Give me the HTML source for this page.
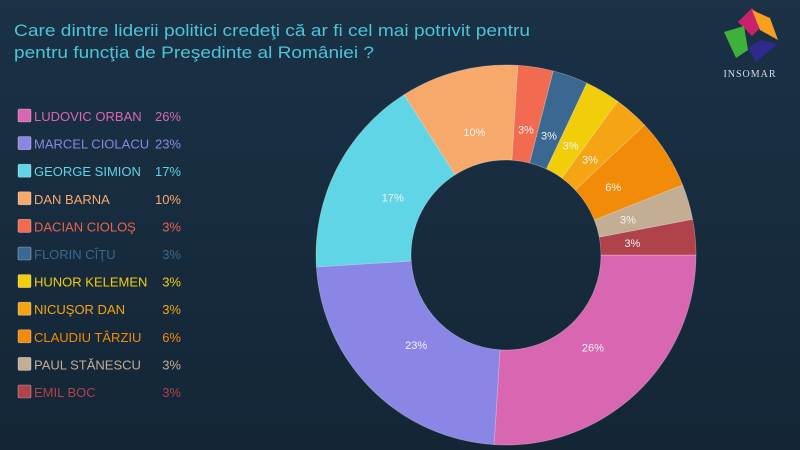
<!DOCTYPE html>
<html><head><meta charset="utf-8"><style>
html,body{margin:0;padding:0;background:#162a3c;}
svg{display:block}
</style></head><body>
<svg id="s" width="800" height="450" xmlns="http://www.w3.org/2000/svg" font-family="Liberation Sans, DejaVu Sans, sans-serif">
<defs><linearGradient id="bg" x1="0" y1="0" x2="0" y2="1"><stop offset="0" stop-color="#1a3146"/><stop offset="1" stop-color="#142636"/></linearGradient></defs>
<rect width="800" height="450" fill="url(#bg)"/>
<text x="14" y="36" font-size="17" fill="#4cc4d6" textLength="516" lengthAdjust="spacingAndGlyphs">Care dintre liderii politici credeţi că ar fi cel mai potrivit pentru</text>
<text x="14" y="58" font-size="17" fill="#4cc4d6" textLength="360" lengthAdjust="spacingAndGlyphs">pentru funcţia de Preşedinte al României ?</text>
<g id="logo">
<polygon points="738,22 752,8 766,22 752,36" fill="#c8226a"/>
<polygon points="752,10 770,18 778,40 760,30" fill="#f5a020"/>
<polygon points="760,40 778,44 756,62 748,48" fill="#2e2a8c"/>
<polygon points="724,32 744,26 748,50 736,58" fill="#3fb13a"/>
<text x="750" y="77" font-size="10" fill="#d8dde6" text-anchor="middle" font-family="Liberation Serif, serif" letter-spacing="1">INSOMAR</text>
</g>
<g id="pie"></g>
<g id="leg" font-size="13"></g>
</svg>
<script>
var d=[["LUDOVIC ORBAN",26,"#d966b0"],["MARCEL CIOLACU",23,"#8a86e6"],["GEORGE SIMION",17,"#5fd5e6"],["DAN BARNA",10,"#f7a96c"],["DACIAN CIOLOŞ",3,"#f26a50"],["FLORIN CÎŢU",3,"#3a6890"],["HUNOR KELEMEN",3,"#f2cd0a"],["NICUŞOR DAN",3,"#f5a514"],["CLAUDIU TÂRZIU",6,"#f28c08"],["PAUL STĂNESCU",3,"#c3ad93"],["EMIL BOC",3,"#b0424c"]];
var txt=["#d966b0","#8a86e6","#5fd5e6","#f7a96c","#e8644f","#3a6890","#f2cd0a","#f5a514","#f28c08","#c3ad93","#b0424c"];
var cx=506,cy=255,R=190,r=95,ns="http://www.w3.org/2000/svg",pie=document.getElementById("pie"),leg=document.getElementById("leg");
var tot=100,a=0,h="";
function p(rad,ang){return (cx+rad*Math.cos(ang)).toFixed(2)+","+(cy+rad*Math.sin(ang)).toFixed(2);}
d.forEach(function(e,i){
 var a1=a+e[1]/tot*2*Math.PI,l=(a1-a)>Math.PI?1:0;
 h+='<path d="M'+p(R,a)+' A'+R+','+R+' 0 '+l+' 1 '+p(R,a1)+' L'+p(r,a1)+' A'+r+','+r+' 0 '+l+' 0 '+p(r,a)+' Z" fill="'+e[2]+'" stroke="rgba(255,255,255,0.35)" stroke-width="0.7"/>';
 var m=(a+a1)/2;
 h+='<text x="'+(cx+127*Math.cos(m)).toFixed(1)+'" y="'+(cy+127*Math.sin(m)+4).toFixed(1)+'" font-size="11" fill="#f4f4f4" text-anchor="middle">'+e[1]+'%</text>';
 a=a1;
});
pie.innerHTML=h;
var g="";
d.forEach(function(e,i){
 var y=116+i*27.6;
 g+='<rect x="18" y="'+(y-7).toFixed(1)+'" width="13" height="13" rx="1.5" fill="'+e[2]+'" stroke="rgba(255,255,255,0.5)" stroke-width="0.6"/>';
 g+='<text x="34" y="'+(y+5).toFixed(1)+'" fill="'+txt[i]+'">'+e[0]+'</text>';
 g+='<text x="181" y="'+(y+5).toFixed(1)+'" fill="'+txt[i]+'" text-anchor="end">'+e[1]+'%</text>';
});
leg.innerHTML=g;
</script>
</body></html>
